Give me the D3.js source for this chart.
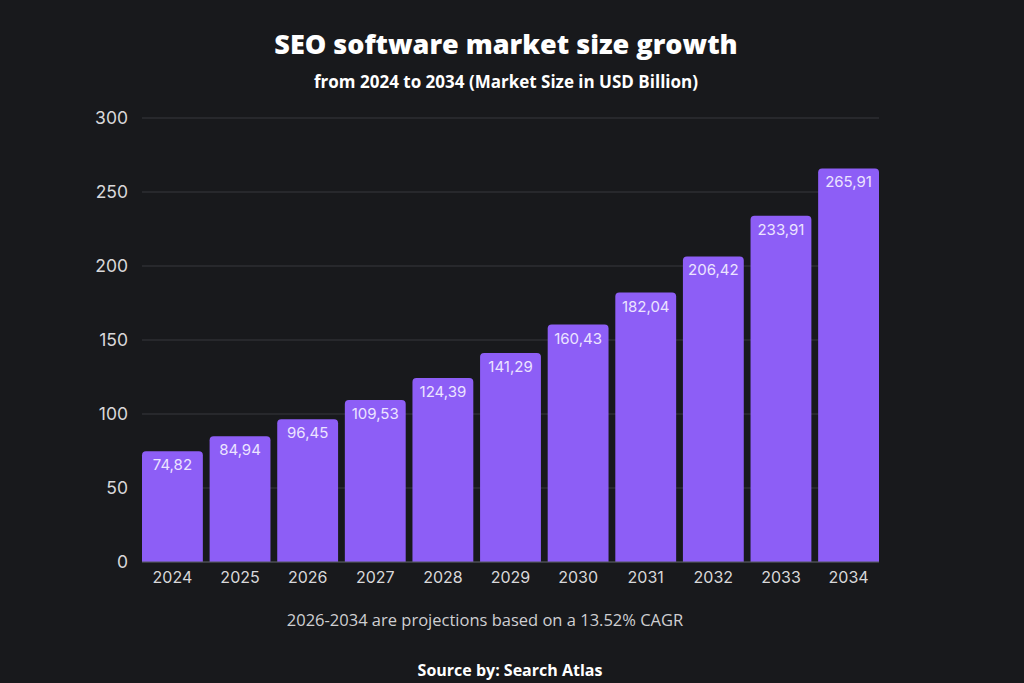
<!DOCTYPE html>
<html><head><meta charset="utf-8">
<script src="https://cdn.jsdelivr.net/npm/d3@7"></script>
<style>html,body{margin:0;padding:0;background:#18191c;}svg{display:block;}</style>
</head><body>
<svg id="c" width="1024" height="683"></svg>
<script>
const years = ["2024","2025","2026","2027","2028","2029","2030","2031","2032","2033","2034"];
const values = [74.82,84.94,96.45,109.53,124.39,141.29,160.43,182.04,206.42,233.91,265.91];
const valueLabels = ["74,82","84,94","96,45","109,53","124,39","141,29","160,43","182,04","206,42","233,91","265,91"];
const yTicks = [0,50,100,150,200,250,300];
const title = "SEO software market size growth";
const subtitle = "from 2024 to 2034 (Market Size in USD Billion)";
const note = "2026-2034 are projections based on a 13.52% CAGR";
const source = "Source by: Search Atlas";

const svg = d3.select("#c");
svg.append("rect").attr("width",1024).attr("height",683).attr("fill","#18191c");
const m = {left:142, right:879, top:118, bottom:562};
const x = d3.scaleBand().domain(years).range([m.left,m.right]).paddingInner(0.1).paddingOuter(0);
const y = d3.scaleLinear().domain([0,300]).range([m.bottom,m.top]);

// grid
svg.append("g").selectAll("line").data(yTicks).join("line")
  .attr("x1",m.left).attr("x2",m.right)
  .attr("y1",d=>y(d)).attr("y2",d=>y(d))
  .attr("stroke","#36383d").attr("stroke-width",1.2);

// y axis labels
const ya = svg.append("g").attr("transform",`translate(${m.left-14},0)`)
  .call(d3.axisLeft(y).tickValues(yTicks).tickSize(0).tickPadding(0));
ya.select(".domain").remove();
ya.selectAll("text").attr("fill","#d8d8da").attr("font-family","Inter, 'Open Sans', sans-serif").attr("font-size",17.5).attr("dy","0.32em");

// bars with rounded top
const r = 4;
svg.append("g").selectAll("path").data(values).join("path")
  .attr("fill","#8d5ef6")
  .attr("d",(d,i)=>{
    const x0 = x(years[i]), w = x.bandwidth(), y0 = y(d), y1 = y(0);
    return `M${x0},${y1}V${y0+r}Q${x0},${y0} ${x0+r},${y0}H${x0+w-r}Q${x0+w},${y0} ${x0+w},${y0+r}V${y1}Z`;
  });

// baseline
svg.append("line").attr("x1",m.left).attr("x2",m.right).attr("y1",y(0)).attr("y2",y(0)).attr("stroke","#55575c").attr("stroke-width",1.2);

// value labels
svg.append("g").selectAll("text").data(values).join("text")
  .attr("x",(d,i)=>x(years[i])+x.bandwidth()/2)
  .attr("y",d=>y(d)+19)
  .attr("text-anchor","middle")
  .attr("fill","#ece4ff")
  .attr("font-family","Inter, 'Open Sans', sans-serif")
  .attr("font-size",15)
  .text((d,i)=>valueLabels[i]);

// x axis labels
const xa = svg.append("g").attr("transform",`translate(0,${m.bottom+10})`)
  .call(d3.axisBottom(x).tickSize(0).tickPadding(0));
xa.select(".domain").remove();
xa.selectAll("text").attr("fill","#d8d8da").attr("font-family","Inter, 'Open Sans', sans-serif").attr("font-size",16).attr("dy","0.71em");

// titles
svg.append("text").attr("x",506).attr("y",54).attr("text-anchor","middle")
  .attr("fill","#ffffff").attr("font-family","'Open Sans', Lato, sans-serif").attr("font-weight",800).attr("font-size",27).text(title);
svg.append("text").attr("x",506).attr("y",88).attr("text-anchor","middle")
  .attr("fill","#ffffff").attr("font-family","'Open Sans', Lato, sans-serif").attr("font-weight",700).attr("font-size",17).text(subtitle);
svg.append("text").attr("x",485).attr("y",626).attr("text-anchor","middle")
  .attr("fill","#cfcfd2").attr("font-family","'Open Sans', sans-serif").attr("font-size",16.5).text(note);
svg.append("text").attr("x",510).attr("y",676).attr("text-anchor","middle")
  .attr("fill","#ffffff").attr("font-family","'Open Sans', sans-serif").attr("font-weight",700).attr("font-size",16).text(source);
</script>
</body></html>
